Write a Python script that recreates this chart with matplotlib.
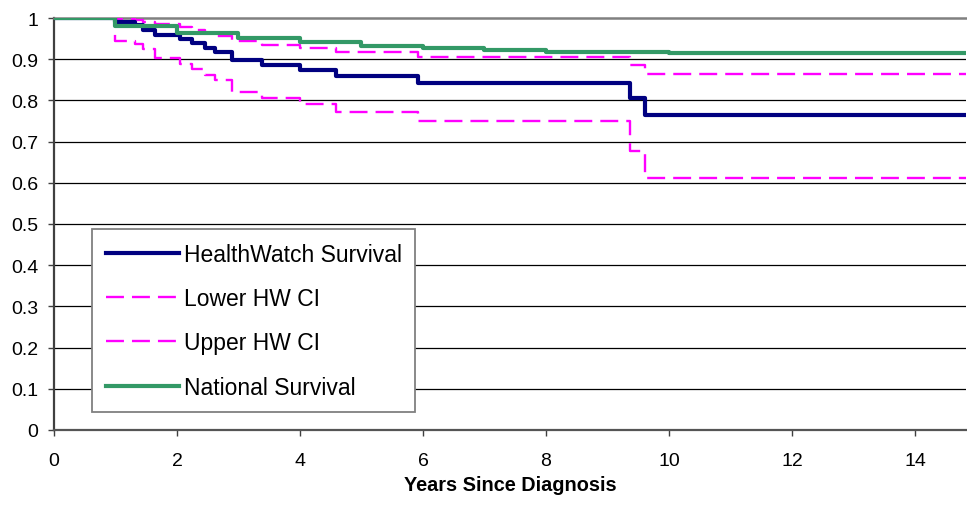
import matplotlib
matplotlib.use("Agg")
import matplotlib.pyplot as plt

plt.rcParams['font.family'] = ['Liberation Sans', 'DejaVu Sans']

# ---- data ----
hw_times = [0, 1.0, 1.32, 1.45, 1.64, 2.05, 2.24, 2.45, 2.62, 2.89, 3.38, 4.0, 4.58, 5.92, 9.37, 9.61, 15]
hw_surv  = [1.0, 0.991, 0.982, 0.970, 0.959, 0.948, 0.939, 0.928, 0.918, 0.898, 0.886, 0.874, 0.860, 0.843, 0.805, 0.765, 0.765]
lower_ci = [1.0, 0.943, 0.936, 0.925, 0.902, 0.888, 0.876, 0.862, 0.850, 0.821, 0.805, 0.791, 0.773, 0.749, 0.678, 0.612, 0.612]
upper_ci = [1.0, 0.998, 0.994, 0.990, 0.985, 0.979, 0.971, 0.964, 0.956, 0.943, 0.935, 0.926, 0.917, 0.905, 0.887, 0.864, 0.864]

nat_times = [0, 1, 2, 3, 4, 5, 6, 7, 8, 9, 10, 11, 12, 13, 14, 15]
nat_surv  = [1.0, 0.981, 0.963, 0.951, 0.941, 0.933, 0.926, 0.922, 0.918, 0.917, 0.914, 0.914, 0.916, 0.915, 0.916, 0.916]

x_ticks = [0, 2, 4, 6, 8, 10, 12, 14]
y_ticks = [0, 0.1, 0.2, 0.3, 0.4, 0.5, 0.6, 0.7, 0.8, 0.9, 1.0]
y_tick_labels = ["0", "0.1", "0.2", "0.3", "0.4", "0.5", "0.6", "0.7", "0.8", "0.9", "1"]
labels = ["HealthWatch Survival", "Lower HW CI", "Upper HW CI", "National Survival"]
x_label = "Years Since Diagnosis"

# ---- figure ----
W, H = 967, 506
fig = plt.figure(figsize=(W / 100, H / 100), dpi=100)
ax = fig.add_axes([54 / W, (H - 431) / H, (966 - 54) / W, (431 - 19) / H])

navy = "#000080"
magenta = "#FF00FF"
green = "#339966"
dash = (7.6, 3.4)

ax.step(hw_times, hw_surv, where="post", color=navy, lw=3.0, label=labels[0], zorder=4)
ax.step(hw_times, lower_ci, where="post", color=magenta, lw=1.7, dashes=dash, label=labels[1], zorder=3)
ax.step(hw_times, upper_ci, where="post", color=magenta, lw=1.7, dashes=dash, label=labels[2], zorder=3)
ax.step(nat_times, nat_surv, where="post", color=green, lw=3.0, label=labels[3], zorder=5)

ax.set_xlim(0, 14.83)
ax.set_ylim(0, 1)
ax.set_xticks(x_ticks)
ax.set_xticklabels([str(t) for t in x_ticks])
ax.set_yticks(y_ticks)
ax.set_yticklabels(y_tick_labels)
ax.tick_params(axis="both", labelsize=14, length=4.5, width=1, color="#404040", direction="out")
ax.tick_params(axis="x", pad=11)
ax.tick_params(axis="y", pad=7)

for yv in y_ticks[1:-1]:
    ax.axhline(yv, color="black", lw=0.9, zorder=1)

ax.spines["right"].set_visible(False)
ax.spines["top"].set_color("#808080")
ax.spines["top"].set_linewidth(1.8)
ax.spines["left"].set_color("#404040")
ax.spines["left"].set_linewidth(1.6)
ax.spines["bottom"].set_color("#555555")
ax.spines["bottom"].set_linewidth(1.6)

ax.set_xlabel(x_label, fontsize=14.3, fontweight="bold", labelpad=5)

leg = ax.legend(loc="upper left",
                bbox_to_anchor=((92 - 54) / (966 - 54), (431 - 230) / 412),
                borderaxespad=0, fontsize=16.5, frameon=True, fancybox=False,
                edgecolor="#808080", framealpha=1, handlelength=3.2,
                handletextpad=0.2, labelspacing=0.93, borderpad=0.6)
leg.get_frame().set_linewidth(1.3)

fig.savefig("out.png", dpi=100)
